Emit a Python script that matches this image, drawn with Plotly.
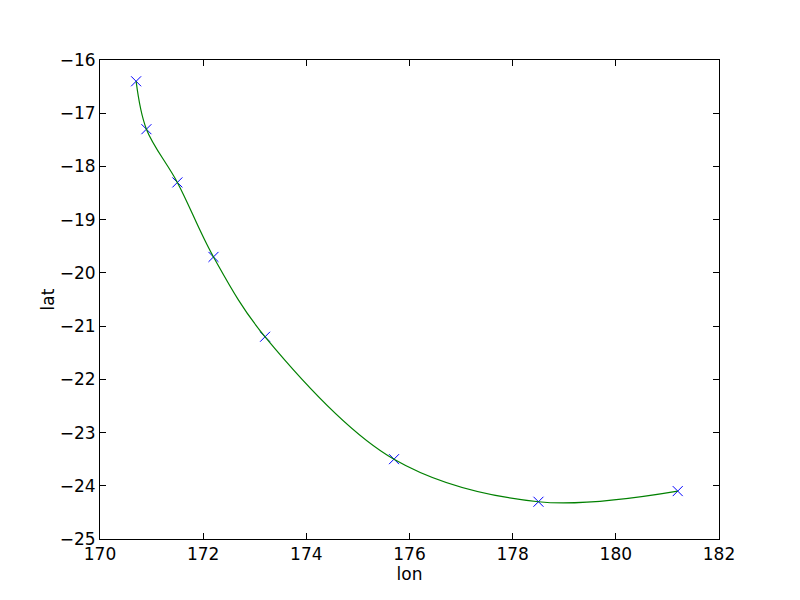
import plotly.graph_objects as go

lon = [170.7, 170.9, 171.5, 172.2, 173.2, 175.7, 178.5, 181.2]
lat = [-16.4, -17.3, -18.3, -19.7, -21.2, -23.5, -24.3, -24.1]
x_ticks = [170, 172, 174, 176, 178, 180, 182]
y_ticks = [-16, -17, -18, -19, -20, -21, -22, -23, -24, -25]

fig = go.Figure()
fig.add_trace(go.Scatter(x=lon, y=lat, mode="markers",
                         marker=dict(symbol="x-thin-open", size=10, color="#0000ff",
                                     line=dict(color="#0000ff", width=1)),
                         showlegend=False, hoverinfo="skip"))
fig.add_trace(go.Scatter(x=lon, y=lat, mode="lines",
                         line=dict(color="#008000", width=1.2, shape="spline", smoothing=1.0),
                         showlegend=False))

axis_common = dict(showgrid=False, zeroline=False, showline=True, linecolor="black",
                   linewidth=1, mirror="allticks", ticks="inside", ticklen=6,
                   tickcolor="black", tickwidth=1,
                   tickfont=dict(family="DejaVu Sans", size=17, color="black"))
fig.update_xaxes(range=[170, 182], tickvals=x_ticks, title=dict(text="lon", standoff=0,
                 font=dict(family="DejaVu Sans", size=17, color="black")), **axis_common)
fig.update_yaxes(range=[-25, -16], tickvals=y_ticks, title=dict(text="lat", standoff=0,
                 font=dict(family="DejaVu Sans", size=17, color="black")), **axis_common)
fig.update_layout(width=800, height=600, plot_bgcolor="white", paper_bgcolor="white",
                  margin=dict(l=92, r=89, t=52, b=69))
fig.write_html("out.html")
